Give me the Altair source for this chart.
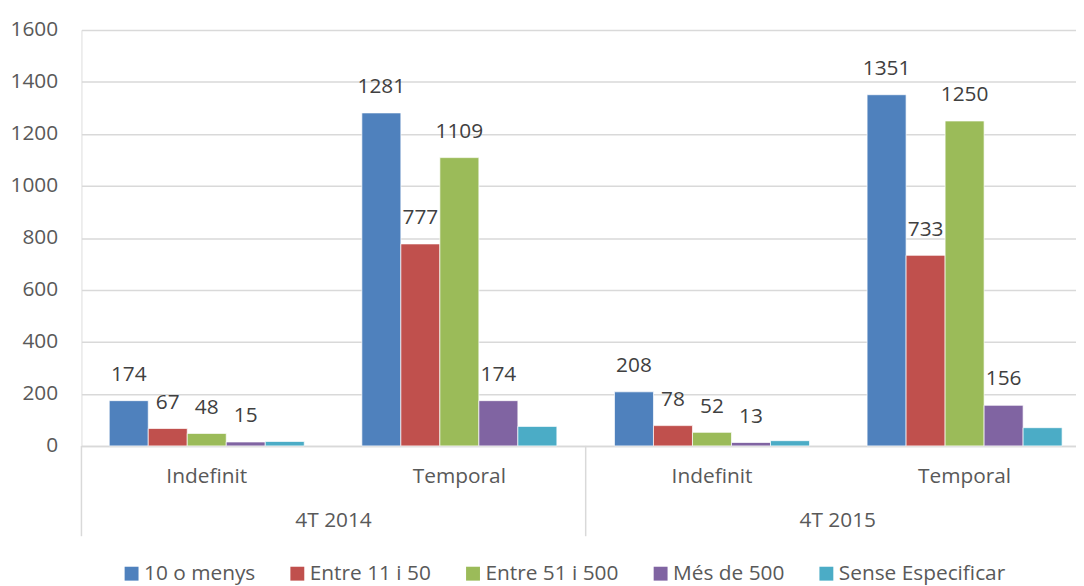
import altair as alt
import pandas as pd

# ---- data ----
years = ["4T 2014", "4T 2014", "4T 2015", "4T 2015"]
contracts = ["Indefinit", "Temporal", "Indefinit", "Temporal"]
series = ["10 o menys", "Entre 11 i 50", "Entre 51 i 500", "Més de 500", "Sense Especificar"]
colors = ["#4F81BD", "#C0504D", "#9BBB59", "#8064A2", "#4BACC6"]
v_10_o_menys = [174, 1281, 208, 1351]
v_entre_11_50 = [67, 777, 78, 733]
v_entre_51_500 = [48, 1109, 52, 1250]
v_mes_500 = [15, 174, 13, 156]
v_sense = [17, 75, 20, 70]
show_label = [True, True, True, True, False]
year_labels = ["4T 2014", "4T 2015"]
y_ticks = [0, 200, 400, 600, 800, 1000, 1200, 1400, 1600]

all_values = [v_10_o_menys, v_entre_11_50, v_entre_51_500, v_mes_500, v_sense]
cats = [f"{y}|{c}" for y, c in zip(years, contracts)]
rows = []
for i, cat in enumerate(cats):
    for j, s in enumerate(series):
        rows.append({"cat": cat, "series": s, "value": all_values[j][i], "show": show_label[j]})
df = pd.DataFrame(rows)
ydf = pd.DataFrame({"year": year_labels})

W, H = 1016, 419
FONT = "Open Sans"
FS = 21
GRID = "#d9d9d9"
TXT = "#595959"

x_cat = alt.X(
    "cat:N", sort=cats,
    scale=alt.Scale(paddingInner=0.228, paddingOuter=0.11),
    axis=alt.Axis(title=None, labelExpr="split(datum.label, '|')[1]", labelAngle=0,
                  ticks=False, domain=True, domainColor=GRID, domainWidth=1.5,
                  labelPadding=31, labelBaseline="middle", labelFontSize=FS,
                  labelFont=FONT, labelColor=TXT),
)
x_off = alt.XOffset("series:N", scale=alt.Scale(domain=series, paddingInner=0, paddingOuter=0))
y_val = alt.Y(
    "value:Q", scale=alt.Scale(domain=[0, 1600]),
    axis=alt.Axis(title=None, values=y_ticks, format="d", domain=False, ticks=False, gridColor=GRID,
                  gridWidth=1.5, labelFontSize=FS, labelFont=FONT, labelColor=TXT, labelPadding=24),
)

bars = alt.Chart(df).mark_bar(stroke="white", strokeWidth=0.7).encode(
    x=x_cat, xOffset=x_off, y=y_val,
    color=alt.Color("series:N", scale=alt.Scale(domain=series, range=colors),
                    legend=alt.Legend(title=None, orient="none", legendX=40, legendY=537,
                                      direction="horizontal", symbolType="square", symbolSize=196,
                                      symbolStrokeWidth=0, labelFontSize=FS, labelFont=FONT,
                                      labelColor=TXT, columnPadding=31, labelOffset=2, padding=0,
                                      labelLimit=400)),
)

labels = alt.Chart(df).transform_filter("datum.show").mark_text(
    dy=-26, fontSize=FS, font=FONT, color="#404040", baseline="middle"
).encode(x=x_cat, xOffset=x_off, y=y_val, text="value:Q")

year_scale = alt.Scale(paddingInner=0, paddingOuter=0)

rules = alt.Chart(ydf).mark_rule(color=GRID, strokeWidth=1.5).encode(
    x=alt.X("year:N", sort=year_labels, bandPosition=0, scale=year_scale, axis=None),
    y=alt.value(H), y2=alt.value(H + 91),
)
year_text = alt.Chart(ydf).mark_text(fontSize=FS, font=FONT, color=TXT, baseline="middle").encode(
    x=alt.X("year:N", sort=year_labels, scale=year_scale, axis=None),
    y=alt.value(H + 76), text="year:N"
)

base = alt.layer(bars, labels)
yr = alt.layer(rules, year_text)
chart = alt.layer(base, yr).resolve_scale(x="independent").properties(
    width=W, height=H, autosize="none",
    padding={"left": 74, "top": 20, "right": -14, "bottom": 139},
).configure_view(strokeWidth=0, stroke="transparent").configure(font=FONT)

chart.save("out.html", embed_options={"renderer": "svg", "actions": False})
